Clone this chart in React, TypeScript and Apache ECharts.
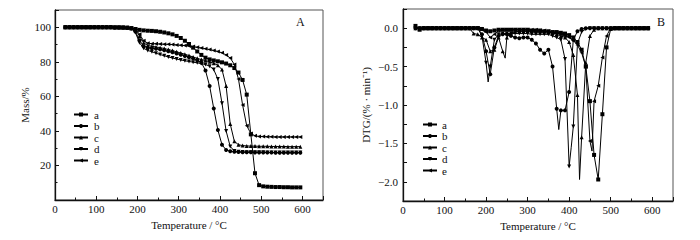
import React, { useEffect, useRef } from "react";
import * as echarts from "echarts";

// TG temperatures (°C)
const temps = [25, 35, 45, 55, 65, 75, 85, 95, 105, 115, 125, 135, 145, 155, 165, 175, 185, 195, 205, 215, 225, 235, 245, 255, 265, 275, 285, 295, 305, 315, 325, 335, 345, 355, 365, 375, 385, 395, 405, 415, 425, 435, 445, 455, 465, 475, 485, 495, 505, 515, 525, 535, 545, 555, 565, 575, 585, 595];

// Mass / %
const massA = [100, 100, 100, 100, 100, 100, 100, 100, 100, 100, 100, 100, 99.9, 99.9, 99.8, 99.7, 99.5, 99.0, 98.5, 98.2, 98.0, 97.9, 97.7, 97.4, 97.0, 96.5, 95.9, 95.0, 93.8, 92.2, 90.3, 88.2, 86.0, 84.0, 82.4, 81.4, 80.8, 80.3, 79.7, 79.0, 78.0, 76.4, 73.8, 69.5, 61.0, 38.0, 15.5, 8.6, 7.9, 7.7, 7.6, 7.5, 7.5, 7.4, 7.4, 7.3, 7.3, 7.3];
const massB = [100, 100, 100, 100, 100, 100, 100, 100, 100, 100, 100, 100, 99.9, 99.9, 99.8, 99.7, 99.3, 97.5, 92.5, 89.0, 88.2, 87.9, 87.6, 87.2, 86.7, 86.1, 85.5, 84.8, 84.1, 83.4, 82.7, 81.9, 81.0, 79.5, 75.0, 66.0, 53.0, 40.5, 32.0, 29.0, 28.2, 27.9, 27.8, 27.7, 27.6, 27.6, 27.5, 27.5, 27.5, 27.5, 27.5, 27.4, 27.4, 27.4, 27.4, 27.4, 27.4, 27.4];
const massC = [100, 100, 100, 100, 100, 100, 100, 100, 100, 100, 100, 100, 99.9, 99.9, 99.8, 99.7, 99.5, 98.5, 95.0, 91.0, 89.5, 89.0, 88.6, 88.2, 87.7, 87.1, 86.5, 85.8, 85.1, 84.4, 83.6, 82.8, 82.0, 81.3, 80.7, 80.0, 79.2, 78.0, 75.5, 66.0, 44.0, 34.0, 32.0, 31.5, 31.3, 31.2, 31.2, 31.1, 31.1, 31.1, 31.0, 31.0, 31.0, 31.0, 30.9, 30.9, 30.9, 30.9];
const massD = [100, 100, 100, 100, 100, 100, 100, 100, 100, 100, 100, 100, 99.9, 99.9, 99.8, 99.7, 99.3, 97.0, 91.0, 87.8, 86.6, 85.8, 85.0, 84.2, 83.5, 82.8, 82.2, 81.6, 81.1, 80.6, 80.2, 79.8, 79.4, 79.0, 78.4, 77.5, 75.5, 70.0, 56.0, 40.0, 31.0, 28.4, 27.9, 27.8, 27.7, 27.7, 27.6, 27.6, 27.6, 27.5, 27.5, 27.5, 27.5, 27.5, 27.5, 27.5, 27.5, 27.5];
const massE = [100, 100, 100, 100, 100, 100, 100, 100, 100, 100, 100, 100, 100, 99.9, 99.9, 99.8, 99.6, 98.8, 96.0, 92.2, 90.8, 90.5, 90.4, 90.3, 90.2, 90.1, 90.0, 89.8, 89.6, 89.4, 89.1, 88.8, 88.4, 88.0, 87.6, 87.1, 86.6, 86.0, 85.2, 84.0, 82.2, 78.5, 70.0, 55.0, 43.0, 38.5, 37.2, 36.8, 36.7, 36.6, 36.6, 36.5, 36.5, 36.5, 36.5, 36.5, 36.5, 36.5];

// DTG temperatures (°C)
const dtgTemps = [30, 40, 50, 60, 70, 80, 90, 100, 110, 120, 130, 140, 150, 160, 170, 180, 190, 200, 210, 220, 230, 240, 250, 260, 270, 280, 290, 300, 310, 320, 330, 340, 350, 360, 370, 380, 390, 400, 410, 420, 430, 440, 450, 460, 470, 480, 490, 500, 510, 520, 530, 540, 550, 560, 570, 580, 590];

// DTG / (%·min^-1)
const dtgA = [0.03, -0.02, 0, 0, 0, 0, 0, 0, 0, 0, 0, 0, 0, 0, 0, 0, -0.01, -0.03, -0.04, -0.03, -0.02, -0.02, -0.02, -0.02, -0.02, -0.02, -0.02, -0.02, -0.03, -0.03, -0.03, -0.04, -0.04, -0.05, -0.05, -0.06, -0.07, -0.09, -0.12, -0.18, -0.28, -0.5, -0.95, -1.65, -1.97, -1.12, -0.25, -0.01, 0, 0, 0, 0, 0, 0, 0, 0, 0];
const dtgB = [0, 0, 0, 0, 0, 0, 0, 0, 0, 0, 0, 0, 0, 0, 0, 0, -0.08, -0.3, -0.6, -0.25, -0.1, -0.08, -0.08, -0.1, -0.12, -0.13, -0.12, -0.12, -0.15, -0.2, -0.28, -0.33, -0.28, -0.5, -1.05, -1.07, -1.07, -0.83, -0.15, -0.04, -0.01, 0, 0, 0, 0, 0, 0, 0, 0, 0, 0, 0, 0, 0, 0, 0, 0];
const dtgC = [0, 0, 0, 0, 0, 0, 0, 0, 0, 0, 0, 0, 0, 0, -0.07, -0.08, -0.12, -0.15, -0.3, -0.28, -0.12, -0.3, -0.12, -0.06, -0.05, -0.04, -0.04, -0.04, -0.04, -0.04, -0.04, -0.04, -0.05, -0.06, -0.08, -0.1, -0.12, -0.18, -0.35, -0.87, -1.42, -0.45, -0.1, -0.02, 0, 0, 0, 0, 0, 0, 0, 0, 0, 0, 0, 0, 0];
const dtgD = [0, 0, 0, 0, 0, 0, 0, 0, 0, 0, 0, 0, 0, 0, 0, 0, -0.1, -0.45, -0.5, -0.15, -0.08, -0.07, -0.07, -0.07, -0.07, -0.07, -0.07, -0.07, -0.08, -0.08, -0.08, -0.08, -0.08, -0.1, -0.12, -0.15, -0.4, -1.8, -1.28, -0.2, -0.05, -0.01, 0, 0, 0, 0, 0, 0, 0, 0, 0, 0, 0, 0, 0, 0, 0];
const dtgE = [0, 0, 0, 0, 0, 0, 0, 0, 0, 0, 0, 0, 0, 0, 0, 0, -0.02, -0.05, -0.12, -0.08, -0.03, -0.02, -0.02, -0.02, -0.02, -0.02, -0.02, -0.02, -0.02, -0.02, -0.03, -0.03, -0.04, -0.05, -0.06, -0.08, -0.1, -0.12, -0.16, -0.22, -0.32, -0.5, -1.47, -0.95, -0.75, -0.38, -0.1, 0, 0, 0, 0, 0, 0, 0, 0, 0, 0];

// Peak tips between the marked samples [T, value]
const tipsA: number[][] = [];
const tipsB = [[375, -1.32]];
const tipsC = [[246, -0.39], [425, -1.97]];
const tipsD = [[205, -0.7], [405, -1.55]];
const tipsE = [[455, -1.6]];

const names = ["a", "b", "c", "d", "e"];
const masses = [massA, massB, massC, massD, massE];
const dtgs = [dtgA, dtgB, dtgC, dtgD, dtgE];
const tips = [tipsA, tipsB, tipsC, tipsD, tipsE];
const symbols = ["rect", "circle", "triangle", "triangle", "triangle"];
const rotations = [0, 0, 0, 180, 90];

const xTicks = [0, 100, 200, 300, 400, 500, 600];
const massTicks = [20, 40, 60, 80, 100];

const FONT = "Liberation Serif";

export default function App() {
  const ref = useRef<HTMLDivElement>(null);
  useEffect(() => {
    if (!ref.current) return;
    const chart = echarts.init(ref.current, undefined, { renderer: "svg" });

    const axisCommon = {
      axisLine: { show: true, onZero: false, lineStyle: { color: "#111", width: 1.3 } },
      axisTick: { show: true, inside: true, length: 4, lineStyle: { color: "#111" } },
      minorTick: { show: true, splitNumber: 2, length: 2.5, lineStyle: { color: "#111" } },
      splitLine: { show: false },
      nameTextStyle: { fontFamily: FONT, fontSize: 11, color: "#111" },
    };

    const xAxisFor = (gi: number) => ({
      ...axisCommon,
      type: "value",
      gridIndex: gi,
      min: 0,
      max: 650,
      interval: 100,
      name: "Temperature / °C",
      nameLocation: "middle",
      nameGap: 19,
      axisLabel: {
        fontFamily: FONT,
        fontSize: 11,
        color: "#111",
        margin: 3,
        formatter: (v: number) => (xTicks.includes(v) ? String(v) : ""),
      },
    });

    const series: any[] = [];
    names.forEach((n, k) => {
      series.push({
        name: n,
        type: "line",
        xAxisIndex: 0,
        yAxisIndex: 0,
        data: temps.map((t, i) => [t, masses[k][i]]),
        symbol: symbols[k],
        symbolRotate: rotations[k],
        symbolSize: 4,
        showAllSymbol: true,
        lineStyle: { color: "#000", width: 1 },
        itemStyle: { color: "#000" },
        z: 2,
      });
    });
    names.forEach((n, k) => {
      const pts = dtgTemps
        .map((t, i) => ({ value: [t, dtgs[k][i]] } as any))
        .concat(tips[k].map((p) => ({ value: [p[0], p[1]], symbol: "none" })))
        .sort((p: any, q: any) => p.value[0] - q.value[0]);
      series.push({
        name: n,
        type: "line",
        xAxisIndex: 1,
        yAxisIndex: 1,
        data: pts,
        symbol: symbols[k],
        symbolRotate: rotations[k],
        symbolSize: 4,
        showAllSymbol: true,
        lineStyle: { color: "#000", width: 1 },
        itemStyle: { color: "#000" },
        z: 2,
      });
    });

    const legendCommon = {
      orient: "vertical",
      data: names,
      itemWidth: 14,
      itemHeight: 5,
      itemGap: 0.5,
      selectedMode: false,
      textStyle: { fontFamily: FONT, fontSize: 11, color: "#111", lineHeight: 11 },
    };

    chart.setOption({
      animation: false,
      backgroundColor: "#fff",
      grid: [
        { left: 55, top: 10, width: 268, height: 190, show: true, borderColor: "#555", borderWidth: 1, backgroundColor: "transparent" },
        { left: 403, top: 9, width: 270, height: 192, show: true, borderColor: "#555", borderWidth: 1, backgroundColor: "transparent" },
      ],
      xAxis: [xAxisFor(0), xAxisFor(1)],
      yAxis: [
        {
          ...axisCommon,
          type: "value",
          gridIndex: 0,
          min: 0,
          max: 110,
          interval: 20,
          name: "Mass/%",
          nameLocation: "middle",
          nameGap: 23,
          axisLabel: {
            fontFamily: FONT,
            fontSize: 11,
            color: "#111",
            margin: 4,
            formatter: (v: number) => (massTicks.includes(v) ? String(v) : ""),
          },
        },
        {
          ...axisCommon,
          type: "value",
          gridIndex: 1,
          min: -2.25,
          max: 0.25,
          interval: 0.25,
          minorTick: { show: false },
          name: "DTG/(% · min⁻¹)",
          nameLocation: "middle",
          nameGap: 32,
          axisLabel: {
            fontFamily: FONT,
            fontSize: 11,
            color: "#111",
            margin: 5,
            formatter: (v: number) => {
              const r = Math.round(v * 100);
              if (r % 50 !== 0 || r > 0) return "";
              return (v < 0 ? "\u2212" : "") + Math.abs(v).toFixed(1);
            },
          },
        },
      ],
      legend: [
        { ...legendCommon, left: 68, top: 104, textStyle: { ...legendCommon.textStyle, padding: [0, 0, 0, 1] } },
        { ...legendCommon, left: 417, top: 114, textStyle: { ...legendCommon.textStyle, padding: [0, 0, 0, 0] } },
      ],
      graphic: [
        { type: "text", left: 296, top: 16, style: { text: "A", fontFamily: FONT, fontSize: 12, fill: "#111" } },
        { type: "text", left: 657, top: 16, style: { text: "B", fontFamily: FONT, fontSize: 12, fill: "#111" } },
      ],
      series,
    });
    return () => chart.dispose();
  }, []);
  return <div ref={ref} style={{ position: "fixed", left: 0, top: 0, width: 700, height: 240 }} />;
}
